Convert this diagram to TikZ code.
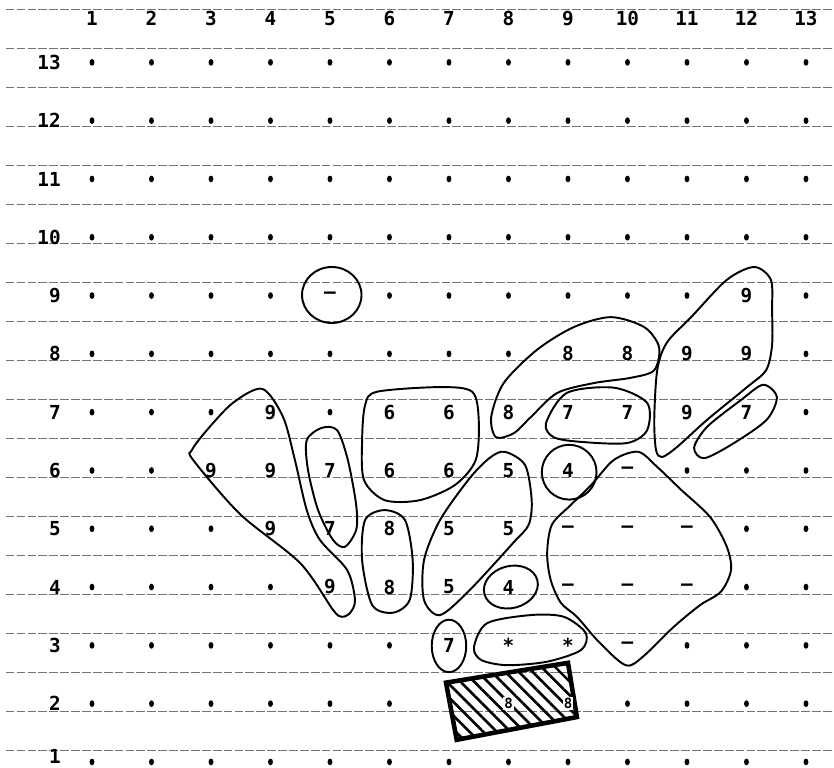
\documentclass[tikz,border=0pt]{standalone}
\usepackage{fontspec}
\setmonofont{DejaVu Sans Mono}
\usetikzlibrary{patterns.meta}

\begin{document}
\begin{tikzpicture}[x=1.19cm,y=1.166cm,
  ruling/.style={black!55,line width=0.45pt,dash pattern=on 5pt off 1.2pt},
  blob/.style={draw=black,line width=1.1pt},
  cellmark/.style={font=\ttfamily\bfseries\fontsize{11}{12}\selectfont,inner sep=0pt},
  gridlabel/.style={font=\ttfamily\bfseries\fontsize{11}{12}\selectfont,inner sep=0pt},
  hatchbox/.style={draw=black,line width=2.6pt,
                   pattern={Lines[angle=-45,distance=5.5pt,line width=1.5pt]}}]
  \fill[white] (-0.546,0.897) rectangle (13.471,14.070);
  \useasboundingbox (-0.546,0.897) rectangle (13.471,14.070);
  \foreach \k in {0,...,19}
    \draw[ruling] (-0.45,{13.916-0.669*\k}) -- (13.47,{13.916-0.669*\k});
  \foreach \c in {1,...,13}
    \node[gridlabel] (col\c) at (\c,13.75) {\c};
  \foreach \r in {2,...,13}
    \node[gridlabel,anchor=east] (row\r) at (0.48,\r) {\r};
  \node[gridlabel,anchor=east] (row1) at (0.48,1.1) {1};
  \foreach \r/\cols in {13/{1,...,13},12/{1,...,13},11/{1,...,13},10/{1,...,13},
      9/{1,2,3,4,6,7,8,9,10,11,13},8/{1,...,8,13},7/{1,2,3,5,13},
      6/{1,2,11,12,13},5/{1,2,3,12,13},4/{1,2,3,4,12,13},
      3/{1,...,6,11,12,13},2/{1,...,6,10,11,12,13},1/{1,...,13}}
    \foreach \c in \cols
      \fill (\c,\r) ellipse (1.4pt and 1.9pt);
  \foreach \c/\r/\t [count=\i] in {5/9/–,12/9/9,
      9/8/8,10/8/8,11/8/9,12/8/9,
      4/7/9,6/7/6,7/7/6,8/7/8,9/7/7,10/7/7,11/7/9,12/7/7,
      3/6/9,4/6/9,5/6/7,6/6/6,7/6/6,8/6/5,9/6/4,10/6/–,
      4/5/9,5/5/7,6/5/8,7/5/5,8/5/5,9/5/–,10/5/–,11/5/–,
      5/4/9,6/4/8,7/4/5,8/4/4,9/4/–,10/4/–,11/4/–,
      7/3/7,8/3/*,9/3/*,10/3/–}
    \node[cellmark] (m\i) at (\c,\r) {\t};
  \draw[blob] (5.03,9.01) ellipse (0.5 and 0.48);
  \draw[blob] plot[smooth cycle] coordinates {(3.86,7.40) (4.21,6.92)
    (4.41,6.18) (4.61,5.32) (4.83,4.81) (5.29,4.29) (5.42,3.78) (5.34,3.56)
    (5.2,3.49) (5.05,3.61) (4.50,4.41) (3.49,5.25) (2.70,6.18)
    (2.68,6.35) (2.93,6.69) (3.37,7.16)};
  \draw[blob] plot[smooth cycle] coordinates {(4.86,6.73) (5.12,6.69)
    (5.30,6.18) (5.44,5.41) (5.44,4.98) (5.25,4.69) (5.05,4.81) (4.80,5.32)
    (4.63,6.01) (4.61,6.52)};
  \draw[blob] plot[smooth cycle] coordinates {(5.79,7.35) (6.85,7.43)
    (7.39,7.35) (7.50,6.87) (7.45,6.18) (7.10,5.75) (6.51,5.49) (5.92,5.49)
    (5.57,5.84) (5.54,6.52) (5.59,7.12)};
  \draw[blob] plot[smooth cycle] coordinates {(5.92,5.32) (6.26,5.15)
    (6.39,4.46) (6.34,3.78) (6.06,3.56) (5.71,3.69) (5.54,4.46) (5.59,5.15)};
  \draw[blob] plot[smooth cycle] coordinates {(7.94,6.32) (8.28,6.09)
    (8.39,5.49) (8.34,5.07) (8.09,4.77) (7.35,3.95) (6.85,3.52) (6.58,3.78)
    (6.58,4.46) (6.85,5.15) (7.35,5.87) (7.69,6.22)};
  \draw[blob] plot[smooth cycle] coordinates {(7.79,6.57) (7.71,6.92)
    (7.92,7.50) (8.48,8.07) (9.10,8.46) (9.72,8.63) (10.28,8.46) (10.53,8.12)
    (10.45,7.72) (10.06,7.59) (9.44,7.50) (8.82,7.33) (8.38,6.92) (8.09,6.64)};
  \draw[blob] plot[smooth cycle] coordinates {(8.63,6.81) (8.98,7.33)
    (9.77,7.42) (10.33,7.16) (10.33,6.69) (9.99,6.47) (9.22,6.49) (8.76,6.57)};
  \draw[blob] (9.02,5.97) ellipse (0.46 and 0.47);
  \draw[blob] plot[smooth cycle] coordinates {(12.13,9.49) (12.41,9.27)
    (12.43,8.75) (12.43,8.15) (12.33,7.72) (12.01,7.43) (11.34,6.87)
    (10.83,6.40) (10.58,6.23) (10.48,6.35) (10.45,6.87) (10.50,7.72)
    (10.66,8.19) (11.07,8.63) (11.67,9.27)};
  \draw[blob] plot[smooth cycle] coordinates {(12.28,7.47) (12.51,7.26)
    (12.34,6.87) (11.79,6.47) (11.29,6.21) (11.12,6.39) (11.34,6.75)
    (11.91,7.21)};
  \draw[blob] plot[smooth cycle] coordinates {(10.18,6.32) (10.50,6.06)
    (10.90,5.67) (11.39,5.20) (11.67,4.69) (11.74,4.29) (11.57,3.92)
    (11.22,3.69) (10.78,3.32) (10.33,2.87) (10.06,2.66) (9.87,2.72)
    (9.49,3.09) (9.15,3.49) (8.88,3.73) (8.71,4.12) (8.65,4.58) (8.73,5.07)
    (9.05,5.41) (9.39,5.75) (9.77,6.18)};
  \draw[blob,rotate around={15:(8.04,4.0)}] (8.04,4.0) ellipse (0.46 and 0.36);
  \draw[blob] (7.0,2.99) ellipse (0.29 and 0.45);
  \draw[blob] plot[smooth cycle] coordinates {(7.42,2.97) (7.64,3.38)
    (8.38,3.52) (8.93,3.49) (9.30,3.21) (9.22,2.92) (8.65,2.72) (7.97,2.66)
    (7.54,2.75)};
  \draw[hatchbox] (6.95,2.36) -- (9.0,2.70) -- (9.15,1.77) -- (7.13,1.38)
    -- cycle;
  \node[cellmark,fill=white,inner sep=0.6pt,font=\ttfamily\bfseries\footnotesize]
    (b1) at (8,2) {8};
  \node[cellmark,fill=white,inner sep=0.6pt,font=\ttfamily\bfseries\footnotesize]
    (b2) at (9.0,2.0) {8};
\end{tikzpicture}
\end{document}
